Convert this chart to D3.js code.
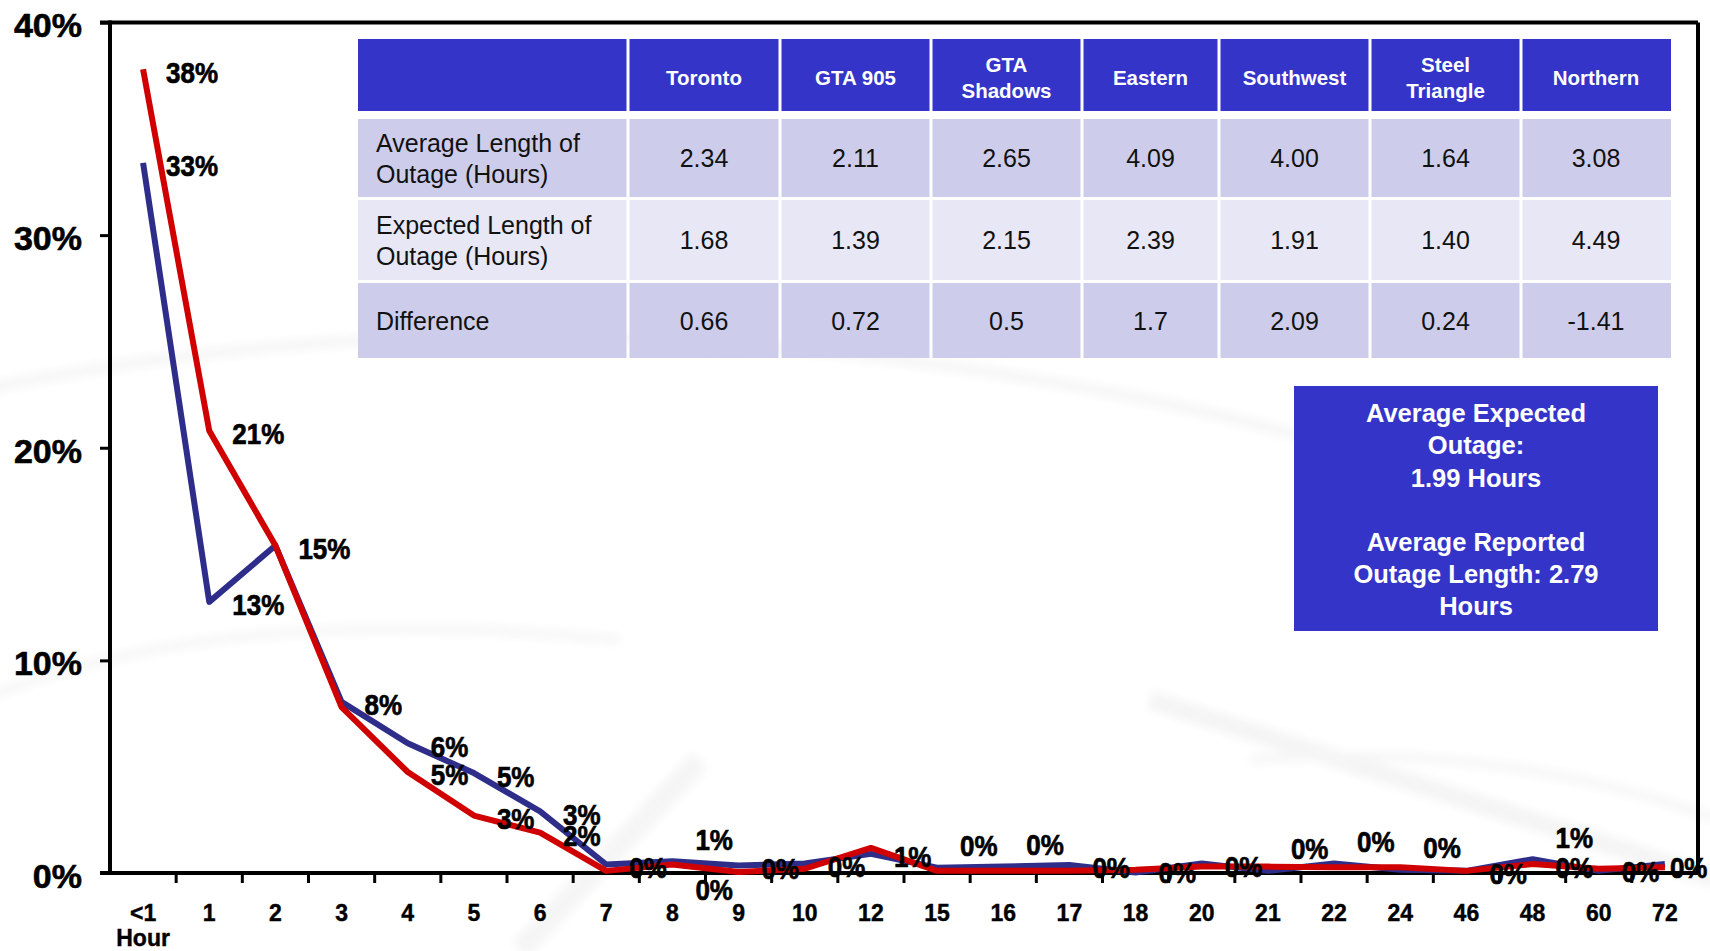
<!DOCTYPE html>
<html>
<head>
<meta charset="utf-8">
<script src="https://cdn.jsdelivr.net/npm/d3@7"></script>
<style>
  html, body { margin: 0; padding: 0; background: #fff; }
  svg { display: block; }
  text { font-family: "Liberation Sans", Arial, Helvetica, sans-serif; }
</style>
</head>
<body>
<svg id="chart" width="1710" height="951"></svg>
<script>
// Outage duration categories (hours)
const categories = ["<1 Hour", "1", "2", "3", "4", "5", "6", "7", "8", "9", "10", "12",
                    "15", "16", "17", "18", "20", "21", "22", "24", "46", "48", "60", "72"];

// Share of outages by duration, % (navy series)
const shareNavy = [33.4, 12.75, 15.4, 8.05, 6.1, 4.7, 2.9, 0.4, 0.55, 0.35, 0.45, 0.9,
                   0.25, 0.3, 0.38, 0.02, 0.45, 0.1, 0.45, 0.15, 0.1, 0.65, 0.1, 0.42];

// Share of outages by duration, % (red series)
const shareRed = [37.8, 20.8, 15.4, 7.8, 4.75, 2.7, 1.9, 0.1, 0.4, 0.05, 0.2, 1.18,
                  0.1, 0.1, 0.1, 0.15, 0.3, 0.3, 0.27, 0.27, 0.1, 0.42, 0.2, 0.27];

// Where each point's value label sits: r = right, a = above, b = below,
// n = tight to the right, "" = none
const labelNavy = ["r","r","","r","r","r","r","r","a","r","r","r",
                   "a","a","r","","r","a","a","a","r","a","","n"];
const labelRed  = ["r","r","r","","r","r","r","","b","","","",
                   "","","","r","","","","","","r","r",""];

const yTicks = [0, 10, 20, 30, 40];

// Regional outage table
const regions = ["Toronto", "GTA 905", "GTA Shadows", "Eastern", "Southwest", "Steel Triangle", "Northern"];
const rowLabels = ["Average Length of Outage (Hours)", "Expected Length of Outage (Hours)", "Difference"];
const avgLength = ["2.34", "2.11", "2.65", "4.09", "4.00", "1.64", "3.08"];
const expLength = ["1.68", "1.39", "2.15", "2.39", "1.91", "1.40", "4.49"];
const difference = ["0.66", "0.72", "0.5", "1.7", "2.09", "0.24", "-1.41"];

const summaryLines = ["Average Expected", "Outage:", "1.99 Hours", "",
                      "Average Reported", "Outage Length: 2.79", "Hours"];

const svg = d3.select("#chart");
const W = 1710, H = 951;
svg.append("rect").attr("width", W).attr("height", H).attr("fill", "#fff");

// faint decorative swooshes in the backdrop
const defs = svg.append("defs");
defs.append("filter").attr("id", "soft").append("feGaussianBlur").attr("stdDeviation", 5);
const deco = svg.append("g").attr("filter", "url(#soft)").attr("fill", "none");
deco.append("path").attr("d", "M-20,390 Q420,300 900,360 T1600,560")
  .attr("stroke", "#f5f5f5").attr("stroke-width", 10);
deco.append("path").attr("d", "M-20,700 Q220,600 620,640")
  .attr("stroke", "#f6f6f6").attr("stroke-width", 9);
deco.append("path").attr("d", "M1150,700 L1720,880")
  .attr("stroke", "#f4f4f4").attr("stroke-width", 18);
deco.append("path").attr("d", "M520,950 L700,760")
  .attr("stroke", "#f5f5f5").attr("stroke-width", 22);
deco.append("path").attr("d", "M1250,760 Q1500,740 1720,820")
  .attr("stroke", "#f6f6f6").attr("stroke-width", 9);

// scales
const plotL = 110, plotR = 1698, plotT = 22.5, plotB = 873;
const x = d3.scaleBand().domain(categories).range([plotL, plotR]).padding(0);
const y = d3.scaleLinear().domain([0, 40]).range([plotB, plotT]);
const cx = c => x(c) + x.bandwidth() / 2;

// frame: top and right borders
svg.append("line").attr("x1", plotL - 10).attr("x2", plotR).attr("y1", plotT).attr("y2", plotT)
  .attr("stroke", "#000").attr("stroke-width", 4);
svg.append("line").attr("x1", plotR).attr("x2", plotR).attr("y1", plotT).attr("y2", plotB)
  .attr("stroke", "#000").attr("stroke-width", 4);

// y axis
const yAxis = svg.append("g").attr("transform", `translate(${plotL},0)`)
  .call(d3.axisLeft(y).tickValues(yTicks).tickSize(10).tickPadding(18).tickFormat(d => d + "%"));
yAxis.select(".domain").remove();
yAxis.selectAll(".tick line").attr("stroke", "#000").attr("stroke-width", 3);
yAxis.selectAll(".tick text")
  .attr("fill", "#000").attr("font-size", 34).attr("font-weight", "bold")
  .attr("stroke", "#000").attr("stroke-width", 0.6)
  .attr("dy", "0.42em")
  .style("font-family", "'Liberation Sans', Arial, sans-serif");
svg.append("line").attr("x1", plotL).attr("x2", plotL).attr("y1", plotT - 2).attr("y2", plotB + 2)
  .attr("stroke", "#000").attr("stroke-width", 4);

// x axis: labels centred in bands, ticks on band edges
const xAxis = svg.append("g").attr("transform", `translate(0,${plotB})`)
  .call(d3.axisBottom(x).tickSize(0).tickPadding(0));
xAxis.select(".domain").remove();
xAxis.selectAll(".tick text").each(function(d) {
  const t = d3.select(this);
  t.text(null).attr("y", 0).attr("dy", null)
    .attr("fill", "#000").attr("font-size", 23).attr("font-weight", "bold")
    .attr("stroke", "#000").attr("stroke-width", 0.4)
    .style("font-family", "'Liberation Sans', Arial, sans-serif");
  const parts = d.split(" ");
  parts.forEach((p, i) => {
    t.append("tspan").attr("x", 0).attr("y", 48 + i * 25).text(p);
  });
});
svg.append("g").selectAll("line")
  .data(categories.slice(1))
  .join("line")
  .attr("x1", d => x(d)).attr("x2", d => x(d))
  .attr("y1", plotB).attr("y2", plotB + 10)
  .attr("stroke", "#000").attr("stroke-width", 3);
svg.append("line").attr("x1", plotL - 10).attr("x2", plotR).attr("y1", plotB).attr("y2", plotB)
  .attr("stroke", "#000").attr("stroke-width", 4);

// series lines (red drawn over navy)
const line = d3.line().x((d, i) => cx(categories[i])).y(d => y(d));
svg.append("path").datum(shareNavy).attr("d", line)
  .attr("fill", "none").attr("stroke", "#2e2e8a").attr("stroke-width", 6)
  .attr("stroke-linejoin", "round");
svg.append("path").datum(shareRed).attr("d", line)
  .attr("fill", "none").attr("stroke", "#d00000").attr("stroke-width", 6)
  .attr("stroke-linejoin", "round");

// value labels
const placeOffset = { r: [23, 3], a: [23, -22], b: [23, 25], n: [5, 3] };
function drawLabels(values, places) {
  const items = values.map((v, i) => ({ v, i, p: places[i] })).filter(d => d.p);
  svg.append("g").selectAll("text")
    .data(items)
    .join("text")
    .attr("transform", d => {
      const o = placeOffset[d.p];
      return `translate(${cx(categories[d.i]) + o[0]},${y(d.v) + o[1]}) scale(1,1.12)`;
    })
    .attr("dy", "0.36em")
    .attr("font-size", 26).attr("font-weight", "bold").attr("fill", "#000")
    .attr("stroke", "#000").attr("stroke-width", 0.6)
    .text(d => Math.round(d.v) + "%");
}
drawLabels(shareNavy, labelNavy);
drawLabels(shareRed, labelRed);

// table
const colWidths = [270, 152, 151, 151, 137, 151, 151, 150];
const colX = [358];
colWidths.forEach(w => colX.push(colX[colX.length - 1] + w));
const gap = 3;
const headerBand = [39, 111];
const rowBands = [[119, 197], [200, 280], [283, 358]];
const rowFill = ["#cdcdeb", "#e7e7f5", "#cdcdeb"];
const headBlue = "#3434c9";
const table = svg.append("g");

// header
table.selectAll("rect.head")
  .data(d3.range(8))
  .join("rect").attr("class", "head")
  .attr("x", i => colX[i] + (i ? gap / 2 : 0))
  .attr("width", i => colWidths[i] - (i ? gap / 2 : 0) - (i < 7 ? gap / 2 : 0))
  .attr("y", headerBand[0]).attr("height", headerBand[1] - headerBand[0])
  .attr("fill", headBlue);

function headerLines(name) {
  if (name === "GTA Shadows") return ["GTA", "Shadows"];
  if (name === "Steel Triangle") return ["Steel", "Triangle"];
  return [name];
}
regions.forEach((r, j) => {
  const lines = headerLines(r);
  const mx = (colX[j + 1] + colX[j + 2]) / 2;
  const my = (headerBand[0] + headerBand[1]) / 2 + 3;
  const t = table.append("text").attr("text-anchor", "middle")
    .attr("fill", "#fff").attr("font-size", 20.5).attr("font-weight", "bold");
  lines.forEach((ln, k) => {
    t.append("tspan").attr("x", mx)
      .attr("y", my + (k - (lines.length - 1) / 2) * 26).attr("dy", "0.36em").text(ln);
  });
});

// body rows
const bodyValues = [avgLength, expLength, difference];
rowBands.forEach((band, r) => {
  const by = band[0], bh = band[1] - band[0];
  table.append("g").selectAll("rect")
    .data(d3.range(8))
    .join("rect")
    .attr("x", i => colX[i] + (i ? gap / 2 : 0))
    .attr("width", i => colWidths[i] - (i ? gap / 2 : 0) - (i < 7 ? gap / 2 : 0))
    .attr("y", by).attr("height", bh)
    .attr("fill", rowFill[r]);
  const my = by + bh / 2;
  const lbl = rowLabels[r];
  const lines = lbl.includes("(") ? [lbl.slice(0, lbl.indexOf(" Outage")), lbl.slice(lbl.indexOf("Outage"))] : [lbl];
  const t = table.append("text").attr("fill", "#111").attr("font-size", 25);
  lines.forEach((ln, k) => {
    t.append("tspan").attr("x", colX[0] + 18)
      .attr("y", my + (k - (lines.length - 1) / 2) * 31).attr("dy", "0.36em").text(ln);
  });
  bodyValues[r].forEach((v, j) => {
    table.append("text").attr("text-anchor", "middle")
      .attr("x", (colX[j + 1] + colX[j + 2]) / 2).attr("y", my).attr("dy", "0.36em")
      .attr("fill", "#111").attr("font-size", 25).text(v);
  });
});

// summary box
const box = svg.append("g");
box.append("rect").attr("x", 1294).attr("y", 386).attr("width", 364).attr("height", 245)
  .attr("fill", headBlue);
const boxText = box.append("text").attr("text-anchor", "middle")
  .attr("fill", "#fff").attr("font-size", 25.5).attr("font-weight", "bold");
summaryLines.forEach((ln, k) => {
  boxText.append("tspan").attr("x", 1476).attr("y", 413 + k * 32.2).attr("dy", "0.36em").text(ln);
});
</script>
</body>
</html>
